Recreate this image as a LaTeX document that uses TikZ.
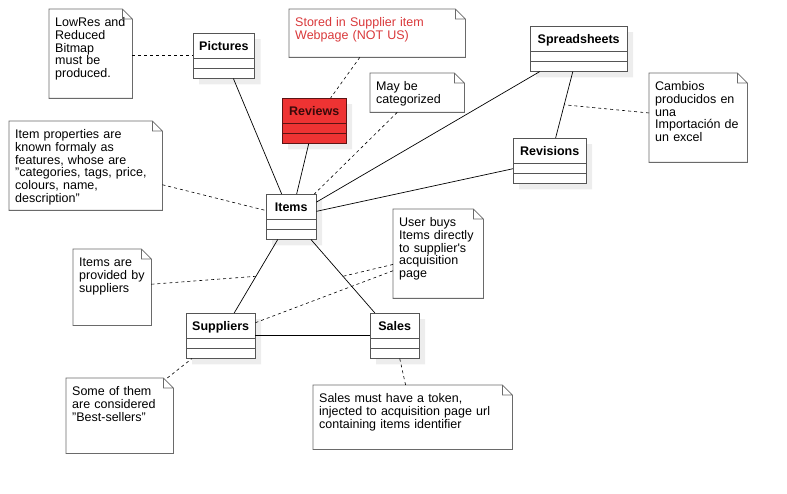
\documentclass[tikz,border=0pt]{standalone}
\usepackage{fontspec}
\setmainfont{Liberation Sans}
\usetikzlibrary{shapes.multipart,shadows,calc}

\definecolor{notegray}{HTML}{6A6A6A}
\definecolor{classgray}{HTML}{555555}
\definecolor{reviewred}{HTML}{EE3333}
\definecolor{reviewdark}{HTML}{5C1414}
\definecolor{reviewtext}{HTML}{3A0A0A}
\definecolor{storedred}{HTML}{D9383A}
\definecolor{shadowgray}{HTML}{EDEDED}

\newcommand{\classname}[1]{\rule[-7.5pt]{0pt}{25pt}#1}

\begin{document}
\begin{tikzpicture}[
    x=1pt,
    y=-1pt,
    font=\fontsize{12.5}{12.7}\selectfont,
    classbox/.style={
        rectangle split,
        rectangle split parts=3,
        rectangle split empty part height=9.5pt,
        rectangle split empty part depth=0pt,
        draw=classgray,
        fill=white,
        anchor=north west,
        inner xsep=6pt,
        inner ysep=0pt,
        font=\fontsize{12.5}{12.7}\selectfont\bfseries,
        drop shadow={shadow xshift=6pt,shadow yshift=-6pt,fill=shadowgray,opacity=1}
    },
    note/.style={
        anchor=north west,
        inner xsep=6pt,
        inner ysep=0pt,
        text height=17.5pt,
        align=left
    },
    noteline/.style={
        draw=notegray,
        line width=0.8pt
    },
    link/.style={
        draw=black,
        line width=0.7pt
    },
    hint/.style={
        draw=black,
        line width=0.6pt,
        dash pattern=on 3pt off 3pt
    }
]
    \useasboundingbox (0,0) rectangle (787,494);

    % classes
    \node[classbox,minimum width=61pt] (pictures) at (193,33)
        {\classname{Pictures}\nodepart{two}\nodepart{three}};
    \node[classbox,minimum width=64pt,fill=reviewred,draw=reviewdark,
          text=reviewtext] (reviews) at (282,98)
        {\classname{Reviews}\nodepart{two}\nodepart{three}};
    \node[classbox,minimum width=97pt] (spreadsheets) at (530,26)
        {\classname{Spreadsheets}\nodepart{two}\nodepart{three}};
    \node[classbox,minimum width=73pt] (revisions) at (513,138)
        {\classname{Revisions}\nodepart{two}\nodepart{three}};
    \node[classbox,minimum width=50pt] (items) at (266,194)
        {\classname{Items}\nodepart{two}\nodepart{three}};
    \node[classbox,minimum width=69pt] (suppliers) at (186,313)
        {\classname{Suppliers}\nodepart{two}\nodepart{three}};
    \node[classbox,minimum width=49pt] (sales) at (370,313)
        {\classname{Sales}\nodepart{two}\nodepart{three}};

    % notes
    \node[note,text width=71pt,text depth=71.5pt] (lowres) at (49,9)
        {LowRes and\\Reduced\\Bitmap\\must be\\produced.};
    \node[note,text width=164pt,text depth=30.5pt,text=storedred] (stored) at (289,9)
        {Stored in Supplier item\\Webpage (NOT US)};
    \node[note,text width=82pt,text depth=21.5pt] (categorized) at (370,73)
        {May be\\categorized};
    \node[note,text width=86pt,text depth=71.5pt] (cambios) at (649,73)
        {Cambios\\producidos en\\una\\Importación de\\un excel};
    \node[note,text width=141pt,text depth=71.5pt] (properties) at (9,121)
        {Item properties are\\known formaly as\\features, whose are\\"categories, tags, price,\\colours, name,\\description"};
    \node[note,text width=66pt,text depth=58.5pt] (provided) at (73,249)
        {Items are\\provided by\\suppliers};
    \node[note,text width=78pt,text depth=71.5pt] (userbuys) at (393,209)
        {User buys\\Items directly\\to supplier\textquotesingle s\\acquisition\\page};
    \node[note,text width=95pt,text depth=57.5pt] (bestsellers) at (66,378)
        {Some of them\\are considered\\"Best-sellers"};
    \node[note,text width=187pt,text depth=46.5pt] (token) at (313,385)
        {Sales must have a token,\\injected to acquisition page url\\containing items identifier};

    \foreach \n in {lowres,stored,categorized,cambios,properties,provided,userbuys,bestsellers,token}
        \draw[noteline] (\n.north west) -- ([xshift=-10pt]\n.north east)
            -- ([yshift=-10pt]\n.north east) -- (\n.south east)
            -- (\n.south west) -- cycle
            ([xshift=-10pt]\n.north east) |- ([yshift=-10pt]\n.north east);

    % associations
    \draw[link] (pictures) -- (items);
    \draw[link] (reviews) -- (items);
    \draw[link] (spreadsheets) -- (items);
    \draw[link] (revisions) -- (items);
    \draw[link] (spreadsheets) -- (revisions);
    \draw[link] (items) -- (suppliers);
    \draw[link] (items) -- (sales);
    \draw[link] (suppliers) -- (sales);

    \coordinate (sheetrev) at ($(spreadsheets)!0.5!(revisions)$);
    \coordinate (itemsupp) at ($(items)!0.5!(suppliers)$);
    \coordinate (itemsale) at ($(items)!0.5!(sales)$);

    % note anchors
    \draw[hint] (lowres.east |- pictures.west) -- (pictures.west);
    \draw[hint] (stored) -- (reviews);
    \draw[hint] (categorized) -- (items);
    \draw[hint] (properties) -- (items);
    \draw[hint] (cambios) -- (sheetrev);
    \draw[hint] (provided) -- (itemsupp);
    \draw[hint] (userbuys) -- (itemsale);
    \draw[hint] (userbuys) -- (suppliers);
    \draw[hint] (bestsellers) -- (suppliers);
    \draw[hint] (token) -- (sales);
\end{tikzpicture}
\end{document}
